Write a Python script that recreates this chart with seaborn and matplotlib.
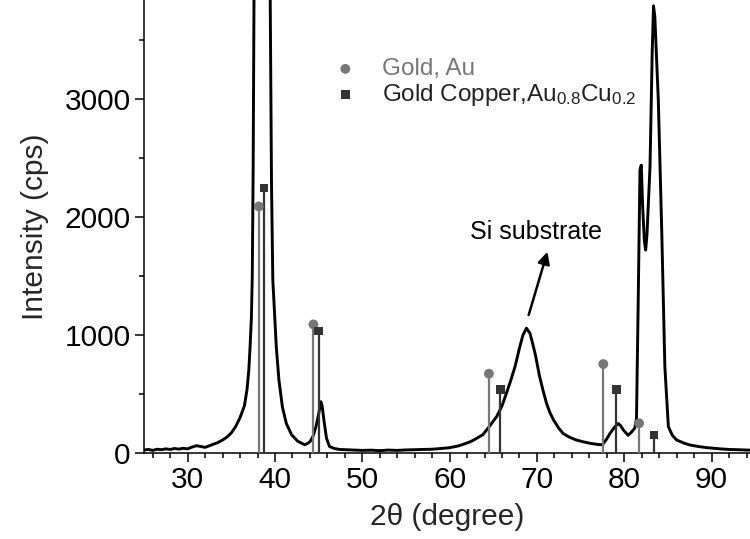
import numpy as np
import pandas as pd
import matplotlib
matplotlib.use("Agg")
import matplotlib.pyplot as plt
from matplotlib.ticker import MultipleLocator
import seaborn as sns

# ---- data ----
two_theta = [25.0, 25.5, 26.0, 26.5, 27.0, 27.5, 28.0, 28.5, 29.0, 29.5, 30.0, 30.5, 31.0, 31.5,
             32.0, 32.5, 33.0, 33.5, 34.0, 34.5, 35.0, 35.5, 36.0, 36.5, 36.8, 37.0, 37.15, 37.3,
             37.4, 37.5, 37.6, 38.0, 38.5, 39.0, 39.45, 39.6, 39.75, 39.95, 40.15, 40.45, 40.85,
             41.3, 41.9, 42.6, 43.0, 43.4, 43.7, 44.0, 44.35, 44.7, 45.0, 45.25, 45.4, 45.6, 45.9,
             46.25, 46.8, 47.4, 48.0, 49.0, 50.0, 51.0, 52.0, 53.0, 54.0, 55.0, 56.0, 57.0, 58.0,
             59.0, 60.0, 61.0, 62.0, 62.5, 63.0, 63.8, 64.5, 65.0, 65.4, 66.0, 66.5, 67.0, 67.5,
             68.0, 68.4, 68.8, 69.2, 69.5, 69.8, 70.3, 70.7, 71.1, 71.5, 71.9, 72.5, 73.0, 73.7,
             74.5, 75.3, 76.1, 77.0, 77.5, 78.0, 78.4, 78.9, 79.3, 79.6, 79.9, 80.2, 80.45, 80.8,
             81.2, 81.4, 81.6, 81.8, 81.95, 82.1, 82.3, 82.45, 82.6, 82.95, 83.2, 83.35, 83.5,
             83.9, 84.3, 84.65, 85.05, 85.5, 86.0, 86.8, 87.5, 88.5, 89.5, 90.2, 91.0, 92.0, 93.0,
             94.0, 94.4]
intensity = [25, 30, 22, 32, 28, 35, 30, 38, 33, 40, 35, 50, 62, 55,
             48, 62, 75, 90, 110, 135, 170, 225, 300, 400, 540, 700, 900, 1150,
             1500, 2400, 3900, 9000, 12000, 9000, 3900, 2300, 1470, 1180, 900, 620, 390,
             250, 155, 100, 85, 70, 80, 95, 140, 225, 330, 435, 400, 280, 125,
             55, 38, 30, 28, 25, 22, 24, 20, 25, 22, 26, 28, 30, 32,
             38, 45, 60, 85, 100, 120, 155, 220, 270, 310, 400, 505, 615, 735,
             890, 1000, 1058, 1015, 930, 840, 650, 530, 420, 340, 280, 210, 165, 135,
             110, 95, 82, 72, 70, 120, 170, 220, 250, 230, 195, 170, 150, 175,
             210, 290, 1300, 2400, 2440, 2100, 1800, 1720, 1850, 2430, 3400, 3790, 3700,
             2990, 1860, 730, 225, 150, 110, 85, 68, 55, 45, 40, 35, 30, 28,
             25, 25]

au_pos = [38.15, 44.4, 64.5, 77.6, 81.7]
au_int = [2090, 1090, 672, 754, 252]
aucu_pos = [38.75, 45.0, 65.8, 79.1, 83.4]
aucu_int = [2246, 1034, 536, 536, 153]

x_ticks = [30, 40, 50, 60, 70, 80, 90]
y_ticks = [0, 1000, 2000, 3000]

GRAY = "#777777"
DARK = "#333333"

sns.set_style("ticks")
plt.rcParams["font.family"] = ["Liberation Sans", "DejaVu Sans"]
plt.rcParams["mathtext.default"] = "regular"

fig = plt.figure(figsize=(7.5, 5.39), dpi=100)
ax = fig.add_axes([144 / 750, 86 / 539, 606 / 750, 453 / 539])

df = pd.DataFrame({"two_theta": two_theta, "intensity": intensity})
sns.lineplot(data=df, x="two_theta", y="intensity", sort=False, estimator=None,
             color="black", lw=2.1, ax=ax, zorder=2)

ax.vlines(au_pos, 0, au_int, color=GRAY, lw=1.6, zorder=3)
ax.vlines(aucu_pos, 0, aucu_int, color=DARK, lw=1.6, zorder=3)
sns.scatterplot(x=au_pos, y=au_int, marker="o", s=50, color=GRAY, edgecolor="none",
                ax=ax, zorder=4, label="Gold, Au")
sns.scatterplot(x=aucu_pos, y=aucu_int, marker="s", s=40, color=DARK, edgecolor="none",
                ax=ax, zorder=4, label="Gold Copper,Au$_{0.8}$Cu$_{0.2}$")

ax.set_xlim(25, 94.4)
ax.set_ylim(0, 3840)
ax.set_xticks(x_ticks)
ax.set_yticks(y_ticks)
ax.xaxis.set_minor_locator(MultipleLocator(2))
ax.yaxis.set_minor_locator(MultipleLocator(500))
ax.tick_params(axis="both", which="major", length=6.5, width=1.1, labelsize=21.5,
               color="black", labelcolor="black", direction="out", pad=3)
ax.tick_params(axis="both", which="minor", length=3.3, width=1.1, color="black",
               direction="out")
for s in ["left", "bottom"]:
    ax.spines[s].set_linewidth(1.1)
    ax.spines[s].set_color("black")
sns.despine(ax=ax)

ax.set_xlabel("2θ (degree)", fontsize=21.5, labelpad=6)
ax.set_ylabel("Intensity (cps)", fontsize=21.5, labelpad=11)

leg = ax.legend(loc="upper left", bbox_to_anchor=(0.3122, 0.8715), frameon=False,
                fontsize=17.5, borderpad=0, handlelength=1.0, handletextpad=1.02,
                labelspacing=0.08, borderaxespad=0)
for t, c in zip(leg.get_texts(), [GRAY, "#222222"]):
    t.set_color(c)

ax.annotate("Si substrate", xy=(71.2, 1706), xytext=(69.85, 1873),
            fontsize=18, ha="center", va="center", color="black")
ax.annotate("", xy=(71.2, 1706), xytext=(69.05, 1169),
            arrowprops=dict(arrowstyle="-|>", color="black", lw=1.8,
                            mutation_scale=18, shrinkA=0, shrinkB=0))

fig.savefig("out.png", dpi=100)
